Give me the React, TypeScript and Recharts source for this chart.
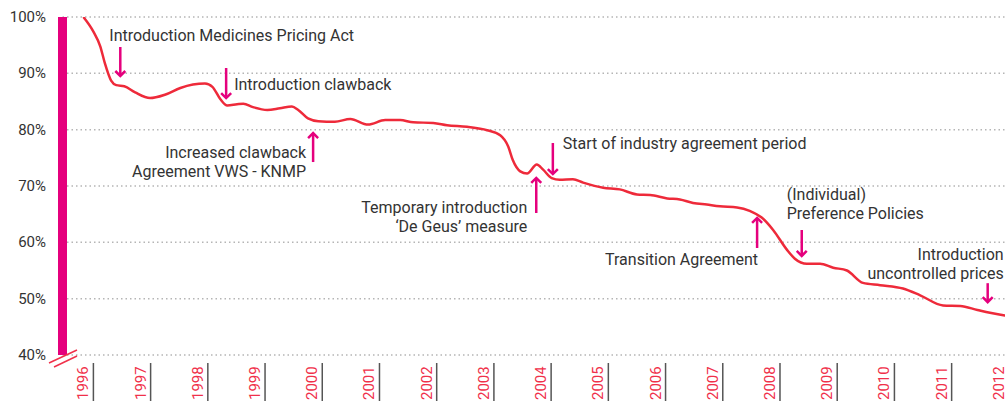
import { LineChart, Line, XAxis, YAxis, CartesianGrid, ReferenceDot } from "recharts";

// decimal years and index (1996 = 100%)
const years = [
  1995.825, 1996.0, 1996.12, 1996.2, 1996.31, 1996.4, 1996.54, 1996.73, 1996.99, 1997.25,
  1997.52, 1997.74, 1997.95, 1998.08, 1998.22, 1998.34, 1998.51, 1998.62, 1998.79, 1999.04,
  1999.26, 1999.47, 1999.58, 1999.75, 1999.93, 2000.22, 2000.49, 2000.8, 2001.1, 2001.36,
  2001.59, 2001.94, 2002.18, 2002.53, 2002.88, 2003.11, 2003.25, 2003.33, 2003.46, 2003.58,
  2003.75, 2003.86, 2004.01, 2004.15, 2004.38, 2004.56, 2004.91, 2005.2, 2005.5, 2005.73,
  2006.03, 2006.25, 2006.48, 2006.72, 2006.95, 2007.25, 2007.47, 2007.68, 2007.88, 2008.12,
  2008.26, 2008.47, 2008.7, 2008.93, 2009.17, 2009.45, 2009.75, 2010.15, 2010.45, 2010.85,
  2011.15, 2011.45, 2011.67, 2011.93, 2012.06,
];
const priceIndex = [
  100, 97.4, 94.8, 91.8, 88.7, 87.9, 87.7, 86.6, 85.6, 86.2,
  87.4, 88.0, 88.2, 87.6, 85.4, 84.3, 84.5, 84.6, 84.0, 83.5,
  83.8, 84.1, 83.5, 82.0, 81.5, 81.4, 81.9, 80.9, 81.7, 81.7,
  81.3, 81.2, 80.8, 80.5, 79.9, 79.0, 77.0, 74.6, 72.6, 72.2,
  73.8, 72.9, 71.4, 71.1, 71.2, 70.6, 69.7, 69.4, 68.5, 68.4,
  67.8, 67.6, 67.0, 66.7, 66.4, 66.2, 65.6, 64.4, 62.2, 58.7,
  57.1, 56.2, 56.2, 55.5, 55.0, 52.8, 52.4, 51.8, 50.6, 48.8,
  48.7, 48.0, 47.5, 47.0, 46.8,
];
const yearTicks = [1996, 1997, 1998, 1999, 2000, 2001, 2002, 2003, 2004, 2005, 2006, 2007, 2008, 2009, 2010, 2011, 2012];
const percentTicks = [40, 50, 60, 70, 80, 90, 100];

// arrow tip (year, value), direction, text lines, text anchor and offset from the tip
const events = [
  { year: 1996.47, value: 89.35, dir: "down", len: 30, lines: ["Introduction Medicines Pricing Act"], anchor: "start", dx: -11, dy: -41 },
  { year: 1998.32, value: 85.44, dir: "down", len: 31, lines: ["Introduction clawback"], anchor: "start", dx: 8, dy: -14 },
  { year: 1999.84, value: 79.58, dir: "up", len: 30, lines: ["Increased clawback", "Agreement VWS - KNMP"], anchor: "end", dx: -7, dy: 21 },
  { year: 2003.74, value: 71.6, dir: "up", len: 36, lines: ["Temporary introduction", "\u2018De Geus\u2019 measure"], anchor: "end", dx: -9, dy: 31 },
  { year: 2004.03, value: 71.95, dir: "down", len: 32, lines: ["Start of industry agreement period"], anchor: "start", dx: 10, dy: -31 },
  { year: 2007.6, value: 64.5, dir: "up", len: 31, lines: ["Transition Agreement"], anchor: "end", dx: 1, dy: 43 },
  { year: 2008.38, value: 57.4, dir: "down", len: 27, lines: ["(Individual)", "Preference Policies"], anchor: "start", dx: -15, dy: -62 },
  { year: 2011.63, value: 49.2, dir: "down", len: 20, lines: ["Introduction", "uncontrolled prices"], anchor: "end", dx: 16, dy: -48 },
];

const data = years.map((t, i) => ({ t, v: priceIndex[i] }));

const MAGENTA = "#e5007d";
const RED = "#ee2a3a";

function arrowShape(ev: (typeof events)[number]) {
  return (props: any) => {
    const { cx, cy } = props;
    const sign = ev.dir === "down" ? -1 : 1;
    const tail = cy + sign * ev.len;
    const head = 6;
    return (
      <g>
        <line x1={cx} y1={tail} x2={cx} y2={cy + sign * 2} stroke={MAGENTA} strokeWidth={2.5} />
        <polyline
          points={`${cx - 5},${cy + sign * head} ${cx},${cy + sign * 1} ${cx + 5},${cy + sign * head}`}
          fill="none"
          stroke={MAGENTA}
          strokeWidth={2.5}
        />
        {ev.lines.map((line, i) => (
          <text
            key={i}
            x={cx + ev.dx}
            y={cy + ev.dy + i * 19}
            dy={5}
            textAnchor={ev.anchor as any}
            fill="#333"
            fontSize={16}
          >
            {line}
          </text>
        ))}
      </g>
    );
  };
}

const YTick = (props: any) => {
  const { y, payload } = props;
  return (
    <g>
      <text x={46} y={y} dy={5} textAnchor="end" fill="#333" fontSize={15}>
        {payload.value}%
      </text>
      {payload.value === 40 && (
        <g stroke="#f0304a" strokeWidth={1.5}>
          <line x1={49} y1={363} x2={77} y2={350} />
          <line x1={54} y1={367} x2={77} y2={356} />
        </g>
      )}
    </g>
  );
};

const XTick = (props: any) => {
  const { x, payload } = props;
  return (
    <g>
      <line x1={x} x2={x} y1={363} y2={401} stroke="#555" strokeWidth={1.5} />
      <text transform={`translate(${x - 5},400) rotate(-90)`} fill="#f0304a" fontSize={15}>
        {payload.value}
      </text>
    </g>
  );
};

export default function App() {
  return (
    <div
      style={{
        position: "absolute",
        left: 0,
        top: 0,
        width: 1005,
        height: 401,
        overflow: "hidden",
        fontFamily: "Roboto",
        background: "#fff",
      }}
    >
      <LineChart width={1010} height={401} data={data} margin={{ top: 17, right: 0, bottom: 0, left: 0 }}>
        <CartesianGrid vertical={false} stroke="#b5b5b5" strokeDasharray="1.5 3" strokeWidth={1.5} />
        <XAxis
          type="number"
          dataKey="t"
          domain={[1995.46, 2012.02]}
          ticks={yearTicks}
          interval={0}
          allowDataOverflow
          axisLine={false}
          tickLine={false}
          height={46}
          tick={<XTick />}
        />
        <YAxis
          type="number"
          domain={[40, 100]}
          ticks={percentTicks}
          allowDataOverflow
          width={62.5}
          axisLine={{ stroke: MAGENTA, strokeWidth: 9 }}
          tickLine={false}
          tick={<YTick />}
        />
        <Line
          type="monotone"
          dataKey="v"
          stroke={RED}
          strokeWidth={2.5}
          dot={false}
          isAnimationActive={false}
        />
        {events.map((ev, i) => (
          <ReferenceDot key={i} x={ev.year} y={ev.value} ifOverflow="visible" shape={arrowShape(ev)} />
        ))}
      </LineChart>
    </div>
  );
}
